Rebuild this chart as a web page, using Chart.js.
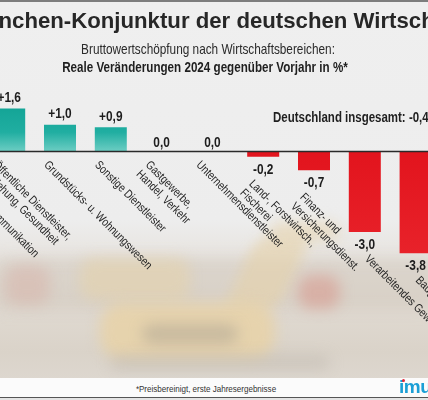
<!DOCTYPE html>
<html>
<head>
<meta charset="utf-8">
<script src="https://cdn.jsdelivr.net/npm/chart.js@4"></script>
<style>
  html, body { margin:0; padding:0; }
  body { width:428px; height:400px; overflow:hidden; position:relative;
         font-family:"Liberation Sans", Arial, sans-serif; }
  #bg { position:absolute; left:0; top:0; width:428px; height:400px;
        background: linear-gradient(to bottom, #efefef 0%, #ededed 55%, #e8e5e1 63%, #e1dbd3 75%, #dad3c9 88%, #ddd7cf 95%); }
  .blob { position:absolute; filter:blur(7px); border-radius:14px; }
  #topline { position:absolute; left:0; top:0; width:428px; height:1.5px; background:#7d7d7d; }
  #title { position:absolute; left:-38.5px; top:10px; font:bold 22.2px "Liberation Sans", Arial, sans-serif;
           line-height:22px; white-space:nowrap; color:#272727; }
  .narrow { transform:scaleX(0.82); transform-origin:50% 50%; white-space:nowrap; }
  #sub1 { position:absolute; left:0; width:416px; top:42px; text-align:center; font-size:14.4px; line-height:15px; color:#2a2a2a; }
  #sub2 { position:absolute; left:0; width:410px; top:60px; text-align:center; font-size:14.2px; line-height:15px;
          font-weight:bold; color:#1f1f1f; }
  #total { position:absolute; left:273px; top:110px; font-size:14px; line-height:14px; font-weight:bold;
           color:#1f1f1f; transform-origin:0 50%; }
  #chartwrap { position:absolute; left:-67px; top:0; width:508px; height:400px; }
  #footer { position:absolute; left:0; top:378px; width:428px; height:18.5px; background:#fbfbfb; }
  #foottext { position:absolute; left:0; width:412px; top:384px; text-align:center; font-size:9.8px; line-height:10px; color:#333; }
  #bottomline { position:absolute; left:0; top:396.5px; width:428px; height:1.5px; background:#555; }
  #below { position:absolute; left:0; top:398px; width:428px; height:2px; background:#e4e4e4; }
  #logo { position:absolute; left:399px; top:377px; font:bold 19px "Liberation Sans", Arial, sans-serif;
          line-height:19px; color:#1b9fd6; letter-spacing:-0.5px; white-space:nowrap; }
  #logodot { position:absolute; left:402px; top:379px; width:3px; height:3px; border-radius:50%; background:#e0263a; }
</style>
</head>
<body>
<div id="bg"></div>
<!-- faded photo hints -->
<div class="blob" style="left:-10px;top:258px;width:448px;height:52px;background:rgba(210,200,190,0.55);"></div>
<div class="blob" style="left:5px;top:265px;width:45px;height:40px;background:rgba(215,170,160,0.4);"></div>
<div class="blob" style="left:80px;top:258px;width:110px;height:42px;background:rgba(228,210,172,0.6);"></div>
<div class="blob" style="left:240px;top:235px;width:55px;height:75px;background:rgba(230,210,170,0.6);transform:skewX(-25deg);"></div>
<div class="blob" style="left:270px;top:222px;width:70px;height:18px;background:rgba(230,210,170,0.55);"></div>
<div class="blob" style="left:298px;top:275px;width:42px;height:34px;background:rgba(215,130,120,0.42);"></div>
<div class="blob" style="left:100px;top:303px;width:175px;height:56px;border-radius:22px;background:rgba(232,210,165,0.8);"></div>
<div class="blob" style="left:142px;top:324px;width:96px;height:20px;background:rgba(160,152,140,0.42);"></div>
<div class="blob" style="left:110px;top:355px;width:220px;height:15px;background:rgba(185,177,167,0.4);"></div>
<div id="topline"></div>
<div id="chartwrap"><canvas id="c" width="508" height="400" style="width:508px;height:400px"></canvas></div>
<div id="title">Branchen-Konjunktur der deutschen Wirtschaft</div>
<div id="sub1" class="narrow">Bruttowertschöpfung nach Wirtschaftsbereichen:</div>
<div id="sub2" class="narrow">Reale Veränderungen 2024 gegenüber Vorjahr in %*</div>
<div id="total" class="narrow"></div>
<div id="footer"></div>
<div id="foottext" class="narrow">*Preisbereinigt, erste Jahresergebnisse</div>
<div id="bottomline"></div>
<div id="below"></div>
<div id="logo">imu</div>
<div id="logodot"></div>
<script>
// ---- data ----
const categories = [
  ['Information u. Kommunikation'],
  ['Öffentliche Dienstleister,', 'Erziehung, Gesundheit'],
  ['Grundstücks- u. Wohnungswesen'],
  ['Sonstige Dienstleister'],
  ['Gastgewerbe,', 'Handel, Verkehr'],
  ['Unternehmensdienstleister'],
  ['Land-, Forstwirtsch.,', 'Fischerei'],
  ['Finanz- und', 'Versicherungsdienst.'],
  ['Verarbeitendes Gewerbe'],
  ['Baugewerbe']
];
const values = [2.5, 1.6, 1.0, 0.9, 0.0, 0.0, -0.2, -0.7, -3.0, -3.8];
const totalLabel = 'Deutschland insgesamt:';
const totalValue = -0.4;
const yMin = -5, yMax = 3;

function fmt(v, sign) {
  const s = Math.abs(v).toFixed(1).replace('.', ',');
  if (v > 0) return (sign ? '+' : '') + s;
  if (v < 0) return '-' + s;
  return s;
}
document.getElementById('total').textContent = totalLabel + ' ' + fmt(totalValue, false);

const FONT = '"Liberation Sans", Arial, sans-serif';
const SX = 0.82; // horizontal condensing (narrow face)

const annotate = {
  id: 'annotate',
  afterDatasetsDraw(chart) {
    const ctx = chart.ctx;
    const y = chart.scales.y;
    const y0 = y.getPixelForValue(0);
    ctx.save();
    ctx.strokeStyle = '#2a2a2a';
    ctx.lineWidth = 1.6;
    ctx.beginPath();
    ctx.moveTo(0, y0);
    ctx.lineTo(chart.width, y0);
    ctx.stroke();

    const meta = chart.getDatasetMeta(0);
    meta.data.forEach((bar, i) => {
      const v = values[i];
      ctx.fillStyle = '#1d1d1d';
      ctx.font = 'bold 14.5px ' + FONT;
      ctx.textAlign = 'center';
      let bottom, ty;
      if (v >= 0) {
        ctx.textBaseline = 'alphabetic';
        ty = bar.y - (v > 0 ? 6.5 : 4);
        bottom = y0;
      } else {
        ctx.textBaseline = 'top';
        ty = bar.y + 5.5;
        bottom = bar.y;
      }
      ctx.save();
      ctx.translate(bar.x, ty);
      ctx.scale(SX, 1);
      ctx.fillText(fmt(v, true), 0, 0);
      ctx.restore();

      let ax, ay;
      if (v >= 0) { ax = bar.x - 10; ay = y0 + 7.5; }
      else if (v > -1) { ax = bar.x - 8; ay = bottom + 21; }
      else { ax = bar.x + 6; ay = bottom + 21; }
      ctx.save();
      ctx.translate(ax, ay);
      ctx.rotate(Math.PI / 4);
      ctx.scale(SX, 1);
      ctx.font = '12px ' + FONT;
      ctx.textAlign = 'left';
      ctx.textBaseline = 'top';
      ctx.fillStyle = '#1f1f1f';
      categories[i].forEach((line, k) => ctx.fillText(line, 0, k * 13));
      ctx.restore();
    });
    ctx.restore();
  }
};

new Chart(document.getElementById('c'), {
  type: 'bar',
  data: {
    labels: categories,
    datasets: [{
      data: values,
      barPercentage: 0.63,
      categoryPercentage: 1,
      borderWidth: 0,
      backgroundColor(c) {
        const chart = c.chart;
        const v = c.raw;
        if (!chart.chartArea) return v >= 0 ? '#22b0a3' : '#e3161f';
        const ys = chart.scales.y;
        const y0 = ys.getPixelForValue(0);
        if (v >= 0) {
          const g = chart.ctx.createLinearGradient(0, ys.getPixelForValue(1.6), 0, y0);
          g.addColorStop(0, '#14a597');
          g.addColorStop(0.55, '#20aea1');
          g.addColorStop(1, '#6ccdc3');
          return g;
        }
        const g = chart.ctx.createLinearGradient(0, y0, 0, ys.getPixelForValue(-3.8));
        g.addColorStop(0, '#e2141d');
        g.addColorStop(1, '#e8222a');
        return g;
      }
    }]
  },
  options: {
    responsive: false,
    animation: false,
    events: [],
    layout: { padding: { top: 71, bottom: 114.5, left: 0, right: 0 } },
    plugins: { legend: { display: false }, tooltip: { enabled: false } },
    scales: {
      x: { display: false },
      y: { display: false, min: yMin, max: yMax }
    }
  },
  plugins: [annotate]
});
</script>
</body>
</html>
